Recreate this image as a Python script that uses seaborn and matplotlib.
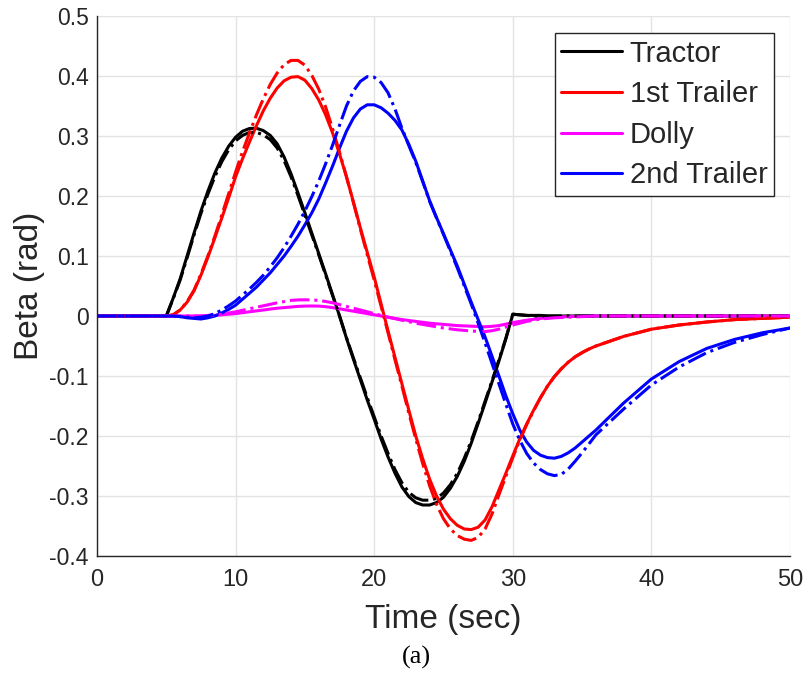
#! /usr/bin/python3
# -*- coding:utf-8 -*-
"""
seaborn 绘制 Beta 随时间变化曲线 (实线 + 点划线)。
"""
import seaborn as sns
import matplotlib.pyplot as plt

# 时间轴 (sec)
time = [0, 4,
        5, 5.5, 6, 6.5, 7, 7.5, 8, 8.5, 9, 9.5,
        10, 10.5, 11, 11.5, 12, 12.5, 13, 13.5, 14, 14.5,
        15, 15.5, 16, 16.5, 17, 17.5, 18, 18.5, 19, 19.5,
        20, 20.5, 21, 21.5, 22, 22.5, 23, 23.5, 24, 24.5,
        25, 25.5, 26, 26.5, 27, 27.5, 28, 28.5, 29, 29.5,
        30, 30.5, 31, 31.5, 32, 32.5, 33, 33.5, 34, 34.5,
        35, 35.5, 36,
        38, 40, 42, 44, 46, 48, 50]

# 实线
tractor = [0, 0,
           0, 0.03, 0.062, 0.1, 0.138, 0.175, 0.208, 0.238, 0.263, 0.283,
           0.298, 0.308, 0.3125, 0.313, 0.309, 0.301, 0.287, 0.265, 0.237, 0.205,
           0.172, 0.138, 0.104, 0.07, 0.035, 0.0, -0.037, -0.072, -0.106, -0.14,
           -0.172, -0.205, -0.235, -0.262, -0.285, -0.301, -0.311, -0.315, -0.315, -0.311,
           -0.302, -0.287, -0.267, -0.242, -0.212, -0.179, -0.145, -0.11, -0.075, -0.038,
           0.003, 0.002, 0.001, 0.001, 0.001, 0, 0, 0, 0, 0,
           0, 0, 0,
           0, 0, 0, 0, 0, 0, 0]
trailer1 = [0, 0,
            0, 0.002, 0.01, 0.023, 0.042, 0.068, 0.098, 0.13, 0.163, 0.197,
            0.232, 0.262, 0.29, 0.317, 0.342, 0.363, 0.38, 0.392, 0.398, 0.399,
            0.393, 0.379, 0.36, 0.335, 0.305, 0.27, 0.232, 0.19, 0.147, 0.106,
            0.065, 0.02, -0.025, -0.069, -0.113, -0.157, -0.2, -0.238, -0.272, -0.3,
            -0.322, -0.338, -0.349, -0.355, -0.356, -0.352, -0.34, -0.318, -0.29, -0.262,
            -0.233, -0.205, -0.18, -0.157, -0.136, -0.117, -0.101, -0.088, -0.077, -0.068,
            -0.061, -0.055, -0.05,
            -0.034, -0.022, -0.015, -0.01, -0.006, -0.004, -0.002]
dolly = [0, 0,
         0, 0, 0, 0, 0, 0, 0.0, 0.001, 0.002, 0.003,
         0.004, 0.0055, 0.007, 0.0085, 0.01, 0.0115, 0.013, 0.014, 0.015, 0.016,
         0.0165, 0.0167, 0.0165, 0.0155, 0.014, 0.012, 0.01, 0.008, 0.006, 0.004,
         0.002, 0.0, -0.002, -0.004, -0.006, -0.0075, -0.009, -0.0105, -0.012, -0.013,
         -0.014, -0.015, -0.016, -0.0165, -0.017, -0.0175, -0.018, -0.0172, -0.016, -0.0135,
         -0.011, -0.009, -0.007, -0.0055, -0.004, -0.003, -0.002, -0.0015, -0.001, -0.0007,
         -0.0005, -0.0002, 0,
         0, 0, 0, 0, 0, 0, 0]
trailer2 = [0, 0,
            0, 0, -0.001, -0.003, -0.004, -0.005, -0.003, 0.0, 0.005, 0.011,
            0.018, 0.028, 0.038, 0.048, 0.06, 0.072, 0.086, 0.1, 0.116, 0.133,
            0.152, 0.172, 0.195, 0.222, 0.25, 0.28, 0.308, 0.33, 0.345, 0.352,
            0.352, 0.347, 0.338, 0.326, 0.31, 0.286, 0.258, 0.225, 0.192, 0.164,
            0.137, 0.11, 0.083, 0.053, 0.023, -0.006, -0.035, -0.067, -0.1, -0.133,
            -0.163, -0.19, -0.21, -0.224, -0.232, -0.236, -0.237, -0.234, -0.228, -0.22,
            -0.21, -0.2, -0.19,
            -0.145, -0.105, -0.076, -0.054, -0.039, -0.028, -0.02]

# 点划线
tractor_b = [0, 0,
             0, 0.029, 0.06, 0.097, 0.135, 0.171, 0.203, 0.232, 0.257, 0.277,
             0.292, 0.301, 0.306, 0.306, 0.302, 0.294, 0.28, 0.259, 0.232, 0.201,
             0.168, 0.135, 0.102, 0.068, 0.034, 0.0, -0.036, -0.07, -0.103, -0.136,
             -0.168, -0.2, -0.229, -0.256, -0.278, -0.294, -0.303, -0.307, -0.307, -0.304,
             -0.295, -0.281, -0.262, -0.237, -0.208, -0.176, -0.142, -0.108, -0.073, -0.037,
             0.003, 0.002, 0.001, 0, 0, 0, 0, 0, 0, 0,
             0, 0, 0,
             0, 0, 0, 0, 0, 0, 0]
trailer1_b = [0, 0,
              0, 0.002, 0.01, 0.024, 0.043, 0.07, 0.1, 0.133, 0.168, 0.204,
              0.24, 0.274, 0.305, 0.335, 0.362, 0.386, 0.405, 0.419, 0.426, 0.426,
              0.418, 0.401, 0.378, 0.348, 0.312, 0.273, 0.232, 0.189, 0.145, 0.102,
              0.06, 0.016, -0.028, -0.073, -0.117, -0.162, -0.205, -0.246, -0.283, -0.314,
              -0.338, -0.355, -0.366, -0.372, -0.374, -0.369, -0.355, -0.33, -0.298, -0.267,
              -0.236, -0.207, -0.181, -0.158, -0.136, -0.117, -0.101, -0.088, -0.077, -0.068,
              -0.061, -0.055, -0.05,
              -0.034, -0.022, -0.015, -0.01, -0.006, -0.004, -0.002]
dolly_b = [0, 0,
           0, 0, 0, 0, 0, 0, 0.001, 0.002, 0.003, 0.005,
           0.007, 0.0095, 0.012, 0.0145, 0.017, 0.0195, 0.022, 0.024, 0.026, 0.0268,
           0.027, 0.0268, 0.026, 0.0242, 0.022, 0.019, 0.016, 0.013, 0.01, 0.007,
           0.004, 0.001, -0.002, -0.0045, -0.007, -0.0095, -0.012, -0.014, -0.016, -0.018,
           -0.02, -0.0215, -0.023, -0.024, -0.025, -0.0257, -0.026, -0.0245, -0.022, -0.0185,
           -0.015, -0.012, -0.009, -0.007, -0.005, -0.004, -0.003, -0.0025, -0.002, -0.0015,
           -0.001, -0.0005, 0,
           0, 0, 0, 0, 0, 0, 0]
trailer2_b = [0, 0,
              0, 0, -0.001, -0.002, -0.003, -0.002, 0.0, 0.004, 0.01, 0.017,
              0.025, 0.035, 0.045, 0.056, 0.068, 0.082, 0.097, 0.114, 0.133, 0.153,
              0.175, 0.199, 0.225, 0.254, 0.285, 0.318, 0.35, 0.375, 0.391, 0.399,
              0.398, 0.389, 0.372, 0.345, 0.313, 0.284, 0.256, 0.224, 0.191, 0.163,
              0.136, 0.108, 0.08, 0.05, 0.02, -0.012, -0.045, -0.079, -0.113, -0.147,
              -0.18, -0.207, -0.229, -0.245, -0.256, -0.263, -0.266, -0.264, -0.255, -0.242,
              -0.228, -0.213, -0.198,
              -0.155, -0.115, -0.085, -0.061, -0.044, -0.031, -0.02]

names = ['Tractor', '1st Trailer', 'Dolly', '2nd Trailer']
colors = ['#000000', '#ff0000', '#ff00ff', '#0000ff']
solid = [tractor, trailer1, dolly, trailer2]
dashdot = [tractor_b, trailer1_b, dolly_b, trailer2_b]

sns.set_theme(style='whitegrid')
plt.rcParams['font.family'] = ['Liberation Sans', 'DejaVu Sans']

fig = plt.figure(figsize=(8.07, 6.83), dpi=100)
ax = fig.add_axes([97 / 807, 1 - 556 / 683, 693 / 807, 540 / 683])

handles = []
for name, c, y in zip(names, colors, solid):
    sns.lineplot(x=time, y=y, ax=ax, color=c, linewidth=2.2, sort=False)
    handles.append(ax.lines[-1])
for c, y in zip(colors, dashdot):
    sns.lineplot(x=time, y=y, ax=ax, color=c, linewidth=2.2, linestyle='-.',
                 sort=False)

ax.set_xlim(0, 50)
ax.set_ylim(-0.4, 0.5)
ax.set_xticks(range(0, 51, 10))
ax.set_yticks([-0.4, -0.3, -0.2, -0.1, 0, 0.1, 0.2, 0.3, 0.4, 0.5])
ax.set_yticklabels(['-0.4', '-0.3', '-0.2', '-0.1', '0', '0.1', '0.2', '0.3',
                    '0.4', '0.5'])

ax.grid(True, color='#e3e3e3', linewidth=1)
for s in ['top', 'right']:
    ax.spines[s].set_visible(False)
for s in ['left', 'bottom']:
    ax.spines[s].set_color('#262626')
    ax.spines[s].set_linewidth(1)
ax.tick_params(axis='both', direction='in', length=5, width=1,
               color='#262626', labelcolor='#262626')
ax.tick_params(axis='x', labelsize=17, pad=9)
ax.tick_params(axis='y', labelsize=16.5, pad=6)

ax.set_xlabel('Time (sec)', fontsize=24, color='#262626', labelpad=10)
ax.set_ylabel('Beta (rad)', fontsize=24, color='#262626', labelpad=3)

leg = ax.legend(handles, names, loc='upper right',
                bbox_to_anchor=(0.977, 0.968), borderaxespad=0,
                fontsize=21, frameon=True, fancybox=False, framealpha=1,
                handlelength=2.1, handletextpad=0.25, labelspacing=0.43,
                borderpad=0.22)
leg.get_frame().set_edgecolor('#262626')
leg.get_frame().set_linewidth(1)

fig.text(416 / 807, 1 - 657 / 683, '(a)', ha='center', va='center',
         fontsize=19, family='Liberation Serif', color='black')

fig.savefig('out.png', dpi=100)
